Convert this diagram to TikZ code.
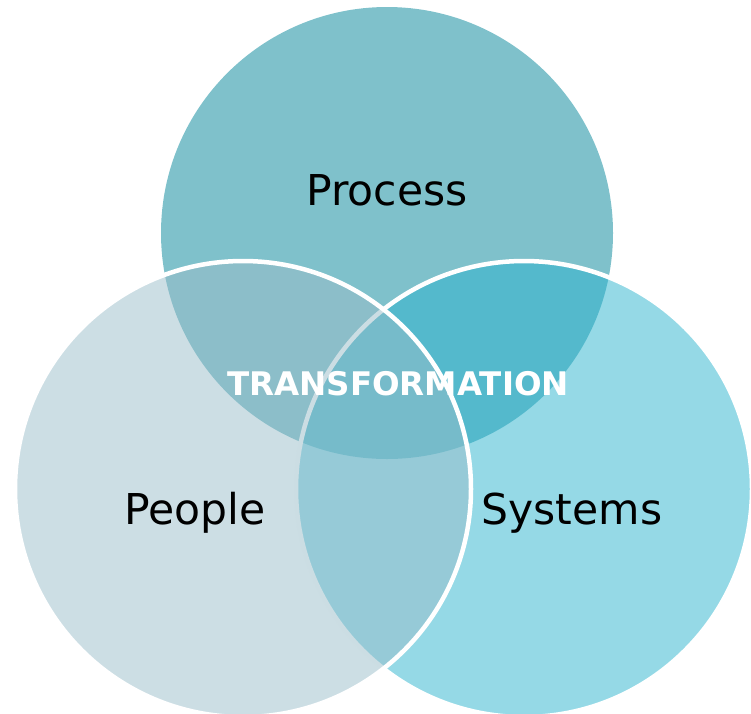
\documentclass[tikz,border=0pt]{standalone}
\usepackage{fontspec}
\setmainfont{DejaVu Sans}
\definecolor{processcol}{HTML}{7FC1CB}
\definecolor{peoplecol}{HTML}{99BDC9}
\definecolor{systemscol}{HTML}{2BB3CD}

\begin{document}
\begin{tikzpicture}[x=1pt,y=-1pt,
	venn/.style={circle, inner sep=0pt, minimum size=456pt, draw=white, line width=4.5pt},
	lbl/.style={anchor=base, inner sep=0pt, font=\fontsize{42.5}{50}\selectfont}]
\useasboundingbox (0,0) rectangle (751,713);
\clip (0,0) rectangle (751,713);

\node[venn, draw=none, minimum size=452pt, fill=processcol] (process) at (387,233) {};
\node[venn, fill=systemscol, fill opacity=0.5] (systems) at (524,489) {};
\node[venn, fill=peoplecol, fill opacity=0.5] (people) at (243,489) {};

\node[lbl] (processtxt) at (387,205) {Process};
\node[lbl] (peopletxt) at (195,524) {People};
\node[lbl] (systemstxt) at (572,524) {Systems};
\node[lbl, white, font=\fontsize{32.5}{38}\selectfont\bfseries] (transf) at (398,395) {TRANSFORMATION};
\end{tikzpicture}
\end{document}
